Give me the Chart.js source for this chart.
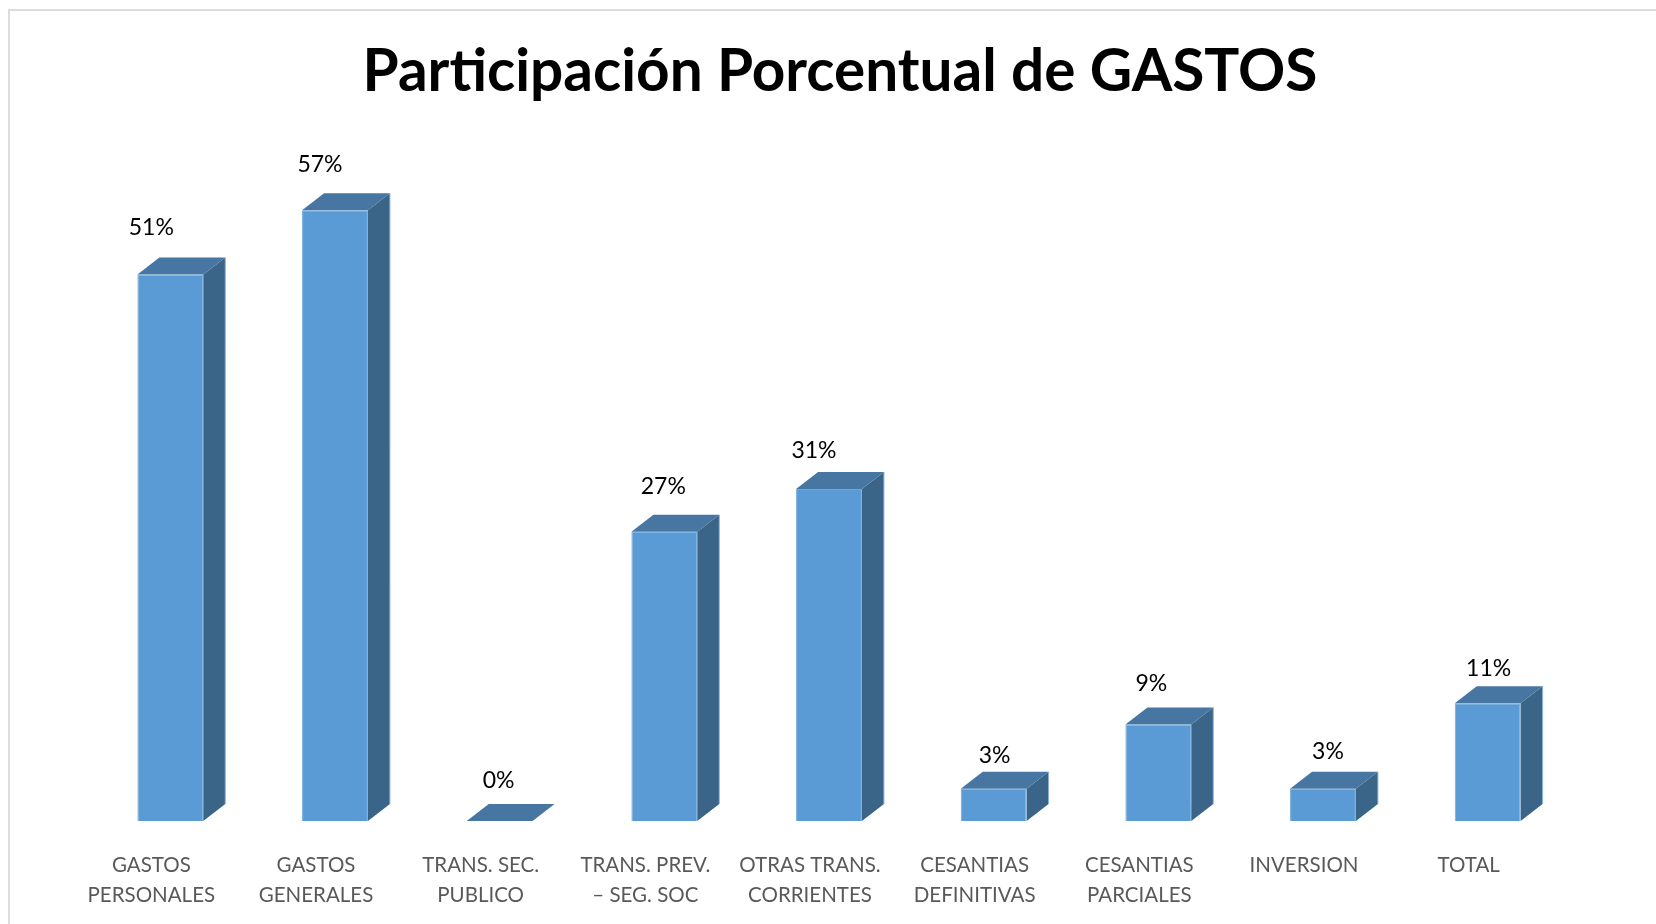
<!DOCTYPE html>
<html>
<head>
<meta charset="utf-8">
<style>
html,body{margin:0;padding:0;background:#fff;width:1656px;height:924px;overflow:hidden}
#frame{position:absolute;left:8px;top:9px;right:-10px;bottom:-10px;border:2px solid #dcdcdc}
#wrap{position:absolute;left:24px;top:0;width:1632px;height:924px}
canvas{display:block}
</style>
<script src="https://cdn.jsdelivr.net/npm/chart.js@4/dist/chart.umd.min.js"></script>
</head>
<body>
<div id="frame"></div>
<div id="wrap"><canvas id="c" width="1632" height="924"></canvas></div>
<script>
const chartTitle = 'Participación Porcentual de GASTOS';
const categories = [
  ['GASTOS','PERSONALES'],
  ['GASTOS','GENERALES'],
  ['TRANS. SEC.','PUBLICO'],
  ['TRANS. PREV.','– SEG. SOC'],
  ['OTRAS TRANS.','CORRIENTES'],
  ['CESANTIAS','DEFINITIVAS'],
  ['CESANTIAS','PARCIALES'],
  'INVERSION',
  'TOTAL'
];
const participacion = [51, 57, 0, 27, 31, 3, 9, 3, 11];
const labelNudgeX = [-19, -15, -1, -1, -15, 1, -7, 5, 1];
const labelNudgeY = [47, 46, 40, 45, 38, 33, 41, 37, 35];

const DEPTH_X = 22, DEPTH_Y = 17;
const TITLE_SHIFT = 11;

const box3d = {
  id: 'box3d',
  afterLayout(chart) {
    chart.titleBlock.left += TITLE_SHIFT;
    chart.titleBlock.right += TITLE_SHIFT;
  },
  beforeDatasetsDraw(chart) {
    const ctx = chart.ctx;
    const bars = chart.getDatasetMeta(0).data;
    ctx.save();
    ctx.lineWidth = 1;
    bars.forEach(b => {
      const l = b.x - b.width / 2, r = b.x + b.width / 2, t = b.y, base = b.base;
      ctx.strokeStyle = '#8fb4d6';
      if (base - t > 0.5) {
        ctx.fillStyle = '#3a6488';
        ctx.beginPath();
        ctx.moveTo(r, t); ctx.lineTo(r + DEPTH_X, t - DEPTH_Y);
        ctx.lineTo(r + DEPTH_X, base - DEPTH_Y); ctx.lineTo(r, base);
        ctx.closePath(); ctx.fill();
        ctx.beginPath();
        ctx.moveTo(r + DEPTH_X, t - DEPTH_Y); ctx.lineTo(r + DEPTH_X, base - DEPTH_Y); ctx.stroke();
      }
      ctx.fillStyle = '#4776a2';
      ctx.beginPath();
      ctx.moveTo(l, t); ctx.lineTo(l + DEPTH_X, t - DEPTH_Y);
      ctx.lineTo(r + DEPTH_X, t - DEPTH_Y); ctx.lineTo(r, t);
      ctx.closePath(); ctx.fill();
    });
    ctx.restore();
  },
  afterDatasetsDraw(chart) {
    const ctx = chart.ctx;
    const bars = chart.getDatasetMeta(0).data;
    ctx.save();
    ctx.fillStyle = '#000';
    ctx.font = '23px Lato';
    ctx.textAlign = 'center';
    ctx.textBaseline = 'middle';
    bars.forEach((b, i) => {
      ctx.fillText(participacion[i] + '%', b.x + labelNudgeX[i], b.y - labelNudgeY[i]);
    });
    ctx.restore();
  }
};

new Chart(document.getElementById('c'), {
  type: 'bar',
  data: {
    labels: categories,
    datasets: [{
      data: participacion,
      backgroundColor: '#5b9bd5',
      borderColor: '#6ea7da',
      borderWidth: 1,
      categoryPercentage: 1,
      barPercentage: 0.4
    }]
  },
  plugins: [box3d],
  options: {
    responsive: false,
    animation: false,
    devicePixelRatio: 1,
    layout: { padding: { left: 64, right: 86, top: 0, bottom: 16 } },
    plugins: {
      legend: { display: false },
      tooltip: { enabled: false },
      title: {
        display: true,
        text: chartTitle,
        color: '#000',
        font: { family: 'Lato', size: 58.5, weight: 'bold' },
        padding: { top: 37, bottom: 71 }
      }
    },
    scales: {
      y: { display: false, min: 0, max: 60 },
      x: {
        afterFit(scale) { scale.height = 87; },
        grid: { display: false, drawTicks: false },
        border: { display: false },
        ticks: {
          color: '#595959',
          font: { family: 'Lato', size: 20.5, lineHeight: 1.44 },
          autoSkip: false,
          maxRotation: 0,
          minRotation: 0,
          labelOffset: -19,
          padding: 30
        }
      }
    }
  }
});
</script>
</body>
</html>
